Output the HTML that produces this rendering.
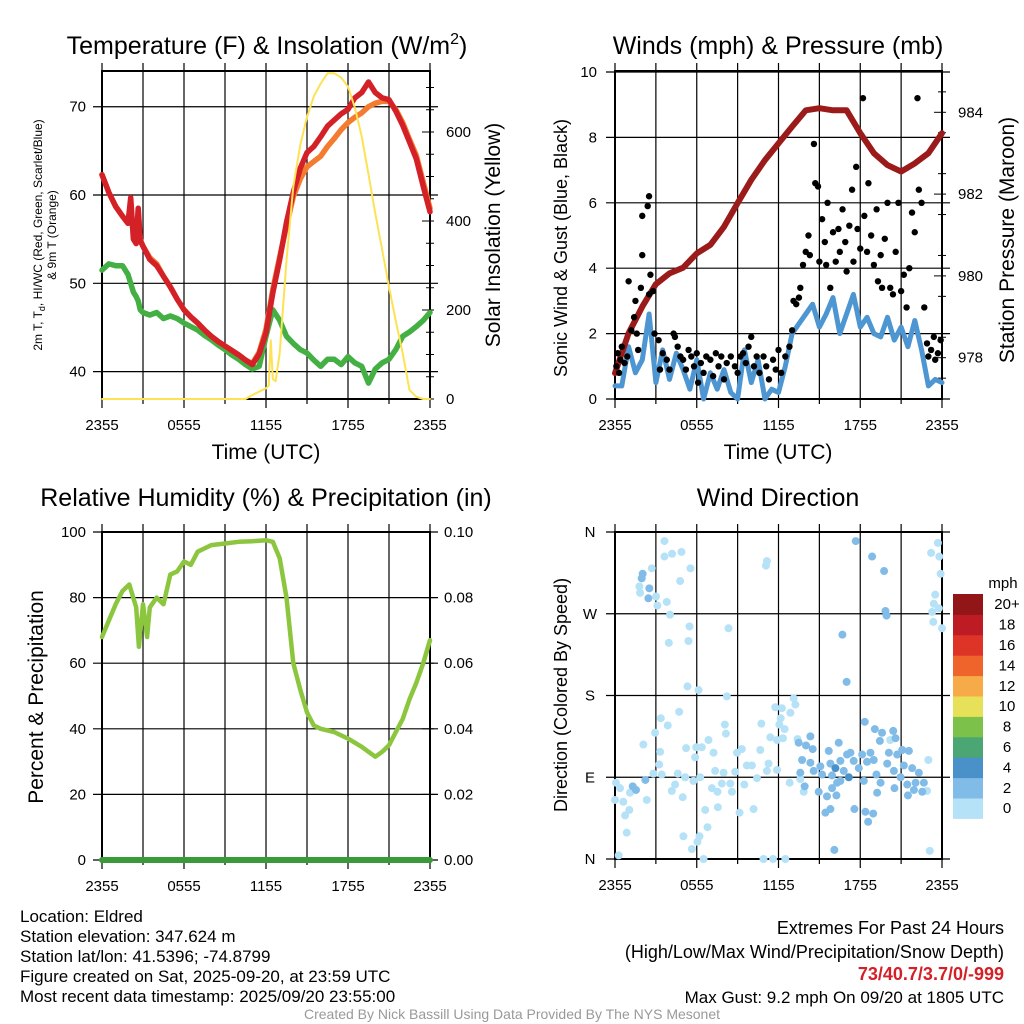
<!DOCTYPE html>
<html><head><meta charset="utf-8">
<style>
body{margin:0;background:#fff;}
svg{display:block;font-family:"Liberation Sans",sans-serif;}
</style></head>
<body>
<svg id="s" width="1024" height="1024" viewBox="0 0 1024 1024" xmlns="http://www.w3.org/2000/svg">
<rect width="1024" height="1024" fill="#fff"/>
<g id="g1"></g>
<g id="g2"></g>
<g id="g3"></g>
<g id="g4"></g>
<g font-size="25" text-anchor="middle">
<text x="267" y="54">Temperature (F) &amp; Insolation (W/m<tspan font-size="16" dy="-10">2</tspan><tspan dy="10">)</tspan></text>
<text x="778" y="54">Winds (mph) &amp; Pressure (mb)</text>
<text x="266" y="506">Relative Humidity (%) &amp; Precipitation (in)</text>
<text x="778" y="506">Wind Direction</text>
</g>
<g font-size="21" text-anchor="middle">
<text x="266" y="459">Time (UTC)</text>
<text x="778" y="459">Time (UTC)</text>
<text transform="translate(500,235) rotate(-90)">Solar Insolation (Yellow)</text>
<text transform="translate(1014,240) rotate(-90)">Station Pressure (Maroon)</text>
<text transform="translate(43,697) rotate(-90)">Percent &amp; Precipitation</text>
</g>
<g font-size="18" text-anchor="middle">
<text transform="translate(567,248) rotate(-90)">Sonic Wind &amp; Gust (Blue, Black)</text>
<text transform="translate(567,695) rotate(-90)">Direction (Colored By Speed)</text>
</g>
<g font-size="12" text-anchor="middle">
<text transform="translate(42,235) rotate(-90)">2m T, T<tspan font-size="9" dy="3">d</tspan><tspan dy="-3">, HI/WC (Red, Green, Scarlet/Blue)</tspan></text>
<text transform="translate(56,235) rotate(-90)">&amp; 9m T (Orange)</text>
</g>
<g font-size="17">
<text x="20" y="922">Location: Eldred</text>
<text x="20" y="942">Station elevation: 347.624 m</text>
<text x="20" y="962">Station lat/lon: 41.5396; -74.8799</text>
<text x="20" y="982">Figure created on Sat, 2025-09-20, at 23:59 UTC</text>
<text x="20" y="1002">Most recent data timestamp: 2025/09/20 23:55:00</text>
</g>
<g font-size="18" text-anchor="end">
<text x="1004" y="934">Extremes For Past 24 Hours</text>
<text x="1004" y="958">(High/Low/Max Wind/Precipitation/Snow Depth)</text>
<text x="1004" y="980" fill="#d42027" font-weight="bold">73/40.7/3.7/0/-999</text>
<text x="1004" y="1003" font-size="17">Max Gust: 9.2 mph On 09/20 at 1805 UTC</text>
</g>
<text x="512" y="1019" font-size="14" fill="#999" text-anchor="middle">Created By Nick Bassill Using Data Provided By The NYS Mesonet</text>
</svg>
<script>
const NS="http://www.w3.org/2000/svg";
const timeTicks=["2355","0555","1155","1755","2355"];
const tempHours=[0,0.5,1,1.5,1.9,2.1,2.3,2.5,2.65,2.8,3,3.5,4,4.5,5,5.5,6,6.5,7,7.5,8,8.5,9,9.5,10,10.5,11,11.5,12,12.5,13,13.5,14,14.5,15,15.5,16,16.5,17,17.5,18,18.5,19,19.5,20,20.5,21,21.5,22,22.5,23,23.5,24];
const tempRed=[62.3,60.3,58.7,57.6,56.8,59.7,55.0,54.5,58.5,54.8,54.2,52.7,52.0,50.8,49.6,48.2,47.0,46.2,45.5,44.7,44.0,43.4,42.9,42.4,41.9,41.3,40.8,42.0,44.4,48.9,52.7,56.9,60.3,63.0,64.8,65.5,66.6,67.8,68.5,69.2,69.7,71.0,71.6,72.8,71.6,71.0,70.8,69.5,67.9,66.0,64.1,61.0,58.1];
const temp9m=[62.3,60.3,58.7,57.6,56.8,59.2,55.3,54.8,58.0,55.0,54.2,52.9,52.2,50.8,49.6,48.2,47.0,46.2,45.5,44.7,44.0,43.4,42.9,42.4,41.9,41.3,40.9,42.2,44.8,49.3,53.0,56.5,59.8,61.8,63.2,63.8,64.4,65.5,66.4,67.4,68.2,68.8,69.3,70.0,70.4,70.6,70.6,69.7,68.2,66.3,64.5,61.5,58.5];
const dewGreen=[51.5,52.2,52.0,52.0,51.0,50.0,49.0,48.5,48.0,47.0,46.7,46.4,46.7,46.0,46.3,46.0,45.5,45.1,44.7,44.1,43.6,43.0,42.5,41.9,41.4,40.8,40.3,40.6,44.0,47.0,45.8,44.0,43.2,42.5,42.1,41.3,40.6,41.4,41.4,40.8,41.7,41.0,40.6,38.7,40.3,41.0,41.4,42.5,44.0,44.5,45.1,45.8,46.7];
const solarHours=[0,10.5,11,12,12.2,12.35,12.5,12.7,13,13.5,14,14.5,15,15.5,16,16.5,17,17.5,18,18.5,19,19.5,20,20.5,21,21.5,22,22.5,23,23.5,24];
const solarVals=[0,0,9,24,30,132,45,40,103,312,477,570,634,680,709,732,732,722,702,655,590,505,417,335,252,175,103,20,5,0,0];
const windBlue=[0.4,0.4,1.6,0.8,1.2,2.6,0.5,1.5,0.6,1.4,0.9,0.3,1.2,0.0,0.8,0.3,0.9,0.2,0.0,1.5,0.5,1.2,0.0,0.3,0.2,1.0,2.0,2.3,2.6,2.9,2.2,2.6,3.1,2.0,2.6,3.2,2.2,2.5,2.0,1.9,2.5,1.8,2.2,1.6,2.4,1.5,0.4,0.6,0.5];
const pressure=[977.62,978.6,979.25,979.8,980.06,980.2,980.55,980.76,981.2,981.78,982.35,982.83,983.24,983.65,984.05,984.1,984.05,984.05,983.49,983.0,982.71,982.55,982.75,983.0,983.49];
const gustHours=[0.1,0.2,0.3,0.4,0.5,0.7,0.9,1.0,1.2,1.4,1.5,1.6,1.7,1.9,2.0,2.0,2.5,2.4,2.5,2.6,2.8,2.9,3.2,3.3,3.5,3.8,4.0,4.3,4.4,4.6,4.8,5.0,5.2,5.4,5.6,5.8,6.0,6.1,6.3,6.5,6.7,7.0,7.2,7.4,7.6,7.8,8.0,8.2,8.5,8.8,9.0,9.2,9.4,9.6,9.8,10.0,10.2,10.4,10.6,10.9,11.1,11.3,11.6,11.8,12.0,12.2,12.5,12.8,13.0,13.1,13.3,13.5,13.6,13.8,14.0,14.2,14.3,14.6,14.7,14.9,15.0,15.2,15.4,15.5,15.6,15.8,16.0,16.2,16.4,16.5,16.7,16.9,17.0,17.2,17.4,17.5,17.7,17.8,18.0,18.2,18.3,18.5,18.6,18.8,19.0,19.2,19.3,19.5,19.6,19.8,20.0,20.2,20.4,20.6,20.8,21.0,21.2,21.4,21.6,21.8,22.0,22.2,22.3,22.5,22.7,22.9,23.0,23.2,23.4,23.5,23.7,23.9];
const gustVals=[1.0,1.4,0.8,1.2,1.6,1.1,1.3,3.6,2.1,2.5,3.0,2.0,1.5,3.4,4.4,5.6,6.2,5.9,3.2,3.8,3.3,2.0,1.8,0.9,1.4,1.2,0.9,2.0,1.9,1.6,1.3,1.2,0.9,1.5,1.3,1.0,1.4,0.5,1.1,0.8,1.3,1.2,0.7,1.4,1.0,1.3,0.6,1.1,1.3,1.0,0.8,1.3,1.4,1.1,1.6,1.9,1.0,1.3,0.8,1.3,1.0,0.6,1.2,0.9,1.5,0.8,1.3,1.6,2.1,3.0,2.9,3.1,3.4,4.1,4.5,5.0,4.4,7.8,6.6,6.5,4.2,5.5,4.8,4.1,6.0,3.4,5.1,4.2,5.2,4.5,5.8,4.8,3.9,5.3,6.4,4.2,7.1,5.2,4.6,9.2,5.6,4.5,6.6,5.0,4.1,5.8,3.6,4.4,3.4,4.9,6.0,3.4,3.2,4.5,6.0,3.3,3.8,2.8,4.0,5.7,5.1,9.2,6.4,6.0,2.8,1.7,1.3,1.5,1.9,1.2,1.4,1.8];
const rhHours=[0,0.5,1,1.5,2,2.5,2.7,3,3.3,3.5,4,4.5,5,5.5,6,6.5,7,7.5,8,9,10,11,12,12.5,13,13.5,14,14.5,15,15.5,16,17,18,19,19.5,20,20.5,21,21.5,22,22.5,23,23.5,24];
const rhVals=[68,73,78,82,84,77,65,78,68,77,80,78,87,88,91,90,94,95,96,96.5,97,97.2,97.5,97,92,80,60,52,45,41,40,39,37,34.5,33,31.5,33,35,39,43,49,54,60,67];
const precipVals=[0,0];
const dirHours=[3.63,3.63,4.19,4.88,2.7,5.54,4.78,1.79,1.84,3.01,3.11,3.8,4.04,5.47,5.39,3.95,8.33,11.15,11.08,5.32,6.13,8.21,13.11,13.24,11.76,12.25,12.87,4.71,3.36,3.87,2.94,8.06,8.14,10.74,12.06,12.16,12.45,2.08,3.31,5.22,5.96,6.37,6.86,7.23,5.88,8.95,9.31,10.66,11.4,11.89,12.33,13.4,3.24,2.82,3.43,4.61,5.15,5.76,6.25,7.35,7.97,8.82,9.68,10.05,10.42,11.15,11.89,11.27,12.82,13.6,13.85,0.07,0.37,0,0.61,1.1,0.74,1.05,0.86,2.33,4.17,4.41,4.97,7.11,7.52,7.84,8.58,8.46,9.49,9.14,6.62,7.55,6.79,6.2,5.02,5.64,6.05,0.27,6.5,10.9,11.6,12.5,10.17,23.0,22.9,23.1,23.7,23.2,23.8,23.9,23.5,23.4,23.28,23.36,24,23.77,20.2,
2.03,1.96,2.52,2.45,1.3,1.54,2.23,17.67,18.87,19.75,19.85,19.93,16.69,17.0,18.33,19.07,19.6,20.42,20.59,19.44,14.34,13.48,14.02,14.51,16.42,15.69,13.73,14.34,14.58,15.07,15.81,16.54,17.03,17.28,17.52,18.14,18.75,18.5,18.99,20.1,20.71,21.08,21.57,19.98,20.47,21.2,21.81,22.3,20.96,16.79,17.89,19.19,13.6,15.2,15.93,16.54,16.3,18.26,19.49,21.45,22.06,22.67,13.92,15.93,14.95,15.56,16.25,17.57,15.81,15.44,18.38,18.95,18.58,19.24,20.51,21.5,21.94,22.55,16.1,16.18,17.16];
const dirDegrees=[350,333,336,338,320,320,306,300,293,289,279,283,269,256,240,238,254,328,323,190,186,179,177,170,167,166,161,162,155,147,139,148,138,149,148,155,143,126,118,122,123,123,131,117,112,117,121,120,134,131,133,132,104,94,93,94,90,86,90,97,95,96,103,103,89,97,98,105,84,88,74,84,78,65,63,73,48,54,29,65,75,82,68,78,74,83,74,83,82,51,54,57,35,25,25,11,19,4,0,0,0,0,55,109,75,9,348,337,333,314,291,281,272,261,254,276,131,
314,309,298,287,80,76,87,350,333,317,273,268,247,195,151,143,139,141,133,130,135,128,125,121,128,119,109,106,97,102,105,108,115,117,108,115,117,107,109,117,115,120,119,105,97,103,100,95,90,97,100,93,95,93,92,86,84,86,84,82,84,84,80,78,74,69,70,55,55,51,52,50,41,73,78,70,76,74,10,100,90];
const dirSpeeds=[1,1,1,1,1,1,1,1,1,1,1,1,1,1,1,1,1,1,1,1,1,1,1,1,1,1,1,1,1,1,1,1,1,1,1,1,1,1,1,1,1,1,1,1,1,1,1,1,1,1,1,1,1,1,1,1,1,1,1,1,1,1,1,1,1,1,1,1,1,1,1,1,1,1,1,1,1,1,1,1,1,1,1,1,1,1,1,1,1,1,1,1,1,1,1,1,1,1,1,1,1,1,1,1,1,1,1,1,1,1,1,1,1,1,1,1,1,
3,3,3,3,3,3,3.5,3,3,3,3,3,3,3,3,3,3,3,3,3,3,3,3,3,3,3,3,3,3,3,3,3,3,3,3,3,3,3,3,3,3,3,3,3,3,3,3,3,3,3,3,3,3,3,3,3,3,3,3,3,3,3,3,3,3,3,3,3,3,3,3,3,3,3,3,3,3,3,3,4.5,4.5];
const speedLabels=["0","2","4","6","8","10","12","14","16","18","20+"];
const speedColors=["#b5e2f7","#80bce7","#4a90c9","#4aa672","#7cc24a","#e6e158","#f6aa48","#ef642b","#dd3427","#be1c24","#921618"];

function el(p,tag,attrs){const e=document.createElementNS(NS,tag);for(const k in attrs)e.setAttribute(k,attrs[k]);p.appendChild(e);return e;}
function txt(p,x,y,s,anchor,size){const t=el(p,"text",{x:x,y:y,"text-anchor":anchor,"font-size":size});t.textContent=s;return t;}
function poly(p,xs,ys,fx,fy,color,w,name){let d="";for(let i=0;i<xs.length;i++)d+=(i?"L":"M")+fx(xs[i]).toFixed(1)+","+fy(ys[i]).toFixed(1);
 const e=el(p,"path",{d:d,fill:"none",stroke:color,"stroke-width":w,"stroke-linejoin":"round","stroke-linecap":"round"});
 
 return e;}

function frame(g,x0,x1,y0,y1,hLines){
 for(let i=0;i<=8;i++){const x=x0+(x1-x0)*i/8;const l=el(g,"line",{x1:x,x2:x,y1:y0-8,y2:y1+(i%2===0?9:5),stroke:"#000","stroke-width":1.2});
  
  }
 hLines.forEach(y=>{const l=el(g,"line",{x1:x0-9,x2:x1+8,y1:y,y2:y,stroke:"#000","stroke-width":1.2});
  
  });
 const r=el(g,"rect",{x:x0,y:y0,width:x1-x0,height:y1-y0,fill:"none",stroke:"#000","stroke-width":2});
 
 
 for(let i=0;i<timeTicks.length;i++){const t=txt(g,x0+(x1-x0)*i/4,y1+31,timeTicks[i],"middle",15);
  
  }
}
function tickR(g,x,y,len){el(g,"line",{x1:x-len,x2:x+4,y1:y,y2:y,stroke:"#000","stroke-width":1});}

// Panel 1
(function(){const g=document.getElementById("g1");
 const X0=102,X1=430,Y0=71,Y1=399;
 const fx=t=>X0+t*(X1-X0)/24, fyT=v=>Y1-(v-36.9)*8.83, fyS=w=>Y1-w*0.445;
 const tl=[40,50,60,70];
 frame(g,X0,X1,Y0,Y1,tl.map(fyT));
 tl.forEach(v=>{const t=txt(g,X0-16,fyT(v)+5,String(v),"end",15);
  
  });
 [0,200,400,600].forEach(v=>{tickR(g,X1,fyS(v),8);const t=txt(g,X1+16,fyS(v)+5,String(v),"start",15);
  
  });
 for(let v=50;v<740;v+=50){if(v%200)tickR(g,X1,fyS(v),4);}
 poly(g,tempHours,dewGreen,fx,fyT,"#44b044",5.5,"dewpoint-line");
 poly(g,tempHours,temp9m,fx,fyT,"#f47c30",5.5,"temp-9m-line");
 poly(g,tempHours,tempRed,fx,fyT,"#d42027",5.5,"temp-2m-line");
 poly(g,solarHours,solarVals,fx,fyS,"#fde253",2,"solar-line");
})();

// Panel 2
(function(){const g=document.getElementById("g2");
 const X0=615,X1=942,Y0=71,Y1=399;
 const fx=t=>X0+t*(X1-X0)/24, fyW=v=>Y1-v*32.7, fyP=p=>357.7-(p-978)*40.9;
 const wl=[0,2,4,6,8,10];
 frame(g,X0,X1,Y0,Y1,wl.map(fyW));
 wl.forEach(v=>{const t=txt(g,X0-18,fyW(v)+5,String(v),"end",15);
  
  });
 [978,980,982,984].forEach(v=>{tickR(g,X1,fyP(v),8);const t=txt(g,X1+16,fyP(v)+5,String(v),"start",15);
  
  });
 [977.5,978.5,979.5,980.5,981.5,982.5,983.5,984.5].forEach(v=>tickR(g,X1,fyP(v),4));
 const bh=windBlue.map((v,i)=>i*0.5);
 poly(g,bh,windBlue,fx,fyW,"#4d96d2",5,"sonic-wind-line");
 const ph=pressure.map((v,i)=>i);
 poly(g,ph,pressure,fx,fyP,"#9b1b1b",6,"pressure-line");
 for(let i=0;i<gustHours.length;i++){const c=el(g,"circle",{cx:fx(gustHours[i]),cy:fyW(gustVals[i]),r:3.2,fill:"#000"});
  
  }
})();

// Panel 3
(function(){const g=document.getElementById("g3");
 const X0=102,X1=430,Y0=532,Y1=860;
 const fx=t=>X0+t*(X1-X0)/24, fy=v=>Y1-v*3.28, fyP=p=>Y1-p*3280;
 const tl=[0,20,40,60,80,100];
 frame(g,X0,X1,Y0,Y1,tl.map(fy));
 tl.forEach(v=>{const t=txt(g,X0-16,fy(v)+5,String(v),"end",15);
  
  });
 [0,0.02,0.04,0.06,0.08,0.10].forEach(v=>{tickR(g,X1,fyP(v),8);const t=txt(g,X1+14,fyP(v)+5,v.toFixed(2),"start",15);
  
  });
 poly(g,rhHours,rhVals,fx,fy,"#8cc63f",4.5,"humidity-line");
 poly(g,[0,24],precipVals,fx,fyP,"#3a9a3a",6,"precipitation-line");
})();

// Panel 4
(function(){const g=document.getElementById("g4");
 const X0=615,X1=942,Y0=532,Y1=859;
 const fx=t=>X0+t*(X1-X0)/24, fy=d=>Y1-d/360*(Y1-Y0);
 const dl=[0,90,180,270,360], dn=["N","E","S","W","N"];
 frame(g,X0,X1,Y0,Y1,dl.map(fy));
 dl.forEach((v,i)=>{const t=txt(g,590,fy(v)+5,dn[i],"middle",15);
  
  });
 const colorFor=s=>speedColors[Math.min(10,Math.floor(s/2))];
 for(let i=0;i<dirHours.length;i++){const c=el(g,"circle",{cx:fx(dirHours[i]),cy:fy(dirDegrees[i]),r:4,fill:colorFor(dirSpeeds[i])});
  
  }
 const cb=el(g,"g",{});
 
 
 const bx=953,bw=30,top=594,bh=20.4;
 const u=txt(cb,1003,588,"mph","middle",15);
 for(let i=0;i<11;i++){const y=top+(10-i)*bh;
  const r=el(cb,"rect",{x:bx,y:y,width:bw,height:bh+0.5,fill:speedColors[i]});
  
  
  const t=txt(cb,1007,y+bh/2+5,speedLabels[i],"middle",15);
  
  }
})();
</script>
</body></html>
